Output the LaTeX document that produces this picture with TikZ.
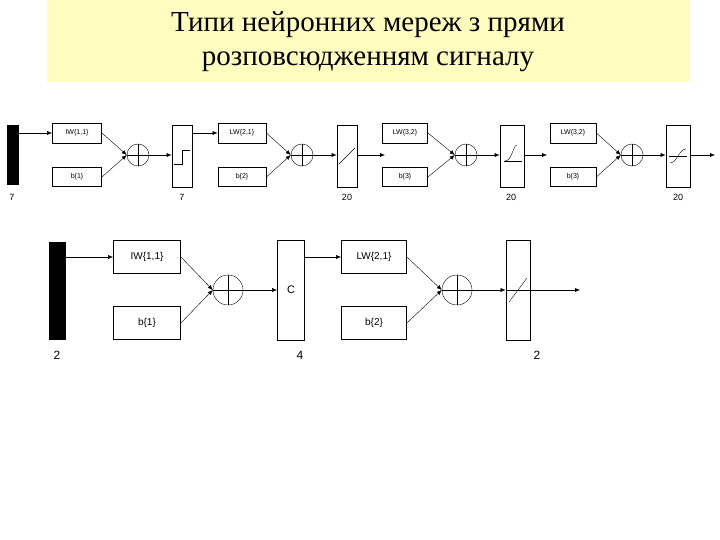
\documentclass[tikz,border=0pt]{standalone}
\usepackage{fontspec}
\setmainfont{Liberation Serif}
\newfontfamily\lsans{Liberation Sans}
\usetikzlibrary{arrows.meta}
\tikzset{
  wbox/.style={draw, thick, inner sep=0pt, font=\lsans\fontsize{7}{8}\selectfont},
  tbox/.style={draw, thick, inner sep=0pt},
  sumc/.style={draw, circle, inner sep=0pt},
  lbl/.style={font=\lsans\fontsize{9}{10}\selectfont},
  conn/.style={-{Latex[length=5pt,width=4pt]}}
}
\begin{document}
\begin{tikzpicture}[x=1pt,y=-1pt]
\useasboundingbox (0,0) rectangle (720,540);

% Title
% -----
\fill[yellow!25] (47,0) rectangle (690,82);
\node[font=\fontsize{29}{34}\selectfont, align=center] (title) at (368,42)
  {Типи нейронних мереж з прями\\розповсюдженням сигналу};

% 1st Row
% -------
\node[fill=black, minimum width=12pt, minimum height=60pt, inner sep=0pt] (in1) at (13,155) {};
\node[lbl] (l1) at (12,197) {7};
\node[wbox, minimum width=49pt, minimum height=20pt] (w1) at (77,133) {IW\{1,1\}};
\node[wbox, minimum width=49pt, minimum height=19pt] (b1) at (77,177) {b\{1\}};
\node[sumc, minimum size=22pt] (s1) at (138,155) {};
\node[tbox, minimum width=20pt, minimum height=62pt] (t1) at (182,156) {};
\node[lbl] (l2) at (182,197) {7};
\node[wbox, minimum width=48pt, minimum height=20pt] (w2) at (242,133) {LW\{2,1\}};
\node[wbox, minimum width=48pt, minimum height=19pt] (b2) at (242,177) {b\{2\}};
\node[sumc, minimum size=22pt] (s2) at (302,155) {};
\node[tbox, minimum width=20pt, minimum height=62pt] (t2) at (347,156) {};
\node[lbl] (l3) at (347,197) {20};
\node[wbox, minimum width=45pt, minimum height=20pt] (w3) at (405,133) {LW\{3,2\}};
\node[wbox, minimum width=45pt, minimum height=19pt] (b3) at (405,177) {b\{3\}};
\node[sumc, minimum size=22pt] (s3) at (466,155) {};
\node[tbox, minimum width=24pt, minimum height=62pt] (t3) at (512,156) {};
\node[lbl] (l4) at (511,197) {20};
\node[wbox, minimum width=46pt, minimum height=20pt] (w4) at (573,133) {LW\{3,2\}};
\node[wbox, minimum width=46pt, minimum height=19pt] (b4) at (573,177) {b\{3\}};
\node[sumc, minimum size=22pt] (s4) at (632,155) {};
\node[tbox, minimum width=24pt, minimum height=62pt] (t4) at (678,156) {};
\node[lbl] (l5) at (678,197) {20};
\coordinate (e3) at (385,155);
\coordinate (e4) at (547,155);
\coordinate (e5) at (715,155);

\draw[conn] (in1.east |- w1) -- (w1);
\foreach \a/\b/\s/\t in {w1/b1/s1/t1, w2/b2/s2/t2, w3/b3/s3/t3, w4/b4/s4/t4}{
  \draw[conn] (\a.east) -- (\s.west);
  \draw[conn] (\b.east) -- (\s.west);
  \draw[conn] (\s.east) -- (\t.west |- \s);
  \draw (\s.north) -- (\s.south) (\s.west) -- (\s.east);
}
\draw[conn] (t1.east |- w2) -- (w2);
\draw[conn] (t2.east |- s2) -- (e3);
\draw[conn] (t3.east |- s3) -- (e4);
\draw[conn] (t4.east |- s4) -- (e5);

% transfer icons
\draw ([shift={(-8,8)}]t1.center) -- ++(8,0) -- ++(0,-14) -- ++(8,0);
\draw ([shift={(-8,8)}]t2.center) -- ++(16,-16);
\draw ([shift={(-8,5)}]t3.center) -- ++(18,0);
\draw ([shift={(-7,5)}]t3.center) .. controls ++(7,0) and ++(-4,0) .. ++(12,-16);
\draw ([shift={(-9,0)}]t4.center) -- ++(18,0);
\draw ([shift={(-8,7)}]t4.center) .. controls ++(7,0) and ++(-7,0) .. ++(16,-14);

% 2nd Row
% -------
\tikzset{wbox/.append style={font=\lsans\fontsize{10}{12}\selectfont}}
\node[fill=black, minimum width=17pt, minimum height=98pt, inner sep=0pt] (in2) at (57,291) {};
\node[lbl, font=\lsans\fontsize{12}{14}\selectfont] (m1) at (57,355) {2};
\node[wbox, minimum width=67pt, minimum height=33pt] (v1) at (147,257) {IW\{1,1\}};
\node[wbox, minimum width=67pt, minimum height=33pt] (c1) at (147,323) {b\{1\}};
\node[sumc, minimum size=30pt] (r1) at (228,290) {};
\node[tbox, minimum width=27pt, minimum height=100pt, font=\lsans\fontsize{11}{13}\selectfont] (u1) at (291,290) {C};
\node[lbl, font=\lsans\fontsize{12}{14}\selectfont] (m2) at (300,355) {4};
\node[wbox, minimum width=65pt, minimum height=33pt] (v2) at (374,257) {LW\{2,1\}};
\node[wbox, minimum width=65pt, minimum height=33pt] (c2) at (374,323) {b\{2\}};
\node[sumc, minimum size=30pt] (r2) at (457,290) {};
\node[tbox, minimum width=24pt, minimum height=100pt] (u2) at (518,290) {};
\node[lbl, font=\lsans\fontsize{12}{14}\selectfont] (m3) at (537,355) {2};
\coordinate (f2) at (580,290);

\draw[conn] (in2.east |- v1) -- (v1);
\foreach \a/\b/\s/\t in {v1/c1/r1/u1, v2/c2/r2/u2}{
  \draw[conn] (\a.east) -- (\s.west);
  \draw[conn] (\b.east) -- (\s.west);
  \draw[conn] (\s.east) -- (\t.west |- \s);
  \draw (\s.north) -- (\s.south) (\s.west) -- (\s.east);
}
\draw[conn] (u1.east |- v2) -- (v2);
\draw[conn] (u2.east) -- (f2);
\draw ([shift={(-12,0)}]u2.center) -- ++(24,0);
\draw ([shift={(-9,12)}]u2.center) -- ++(18,-24);

\end{tikzpicture}
\end{document}
